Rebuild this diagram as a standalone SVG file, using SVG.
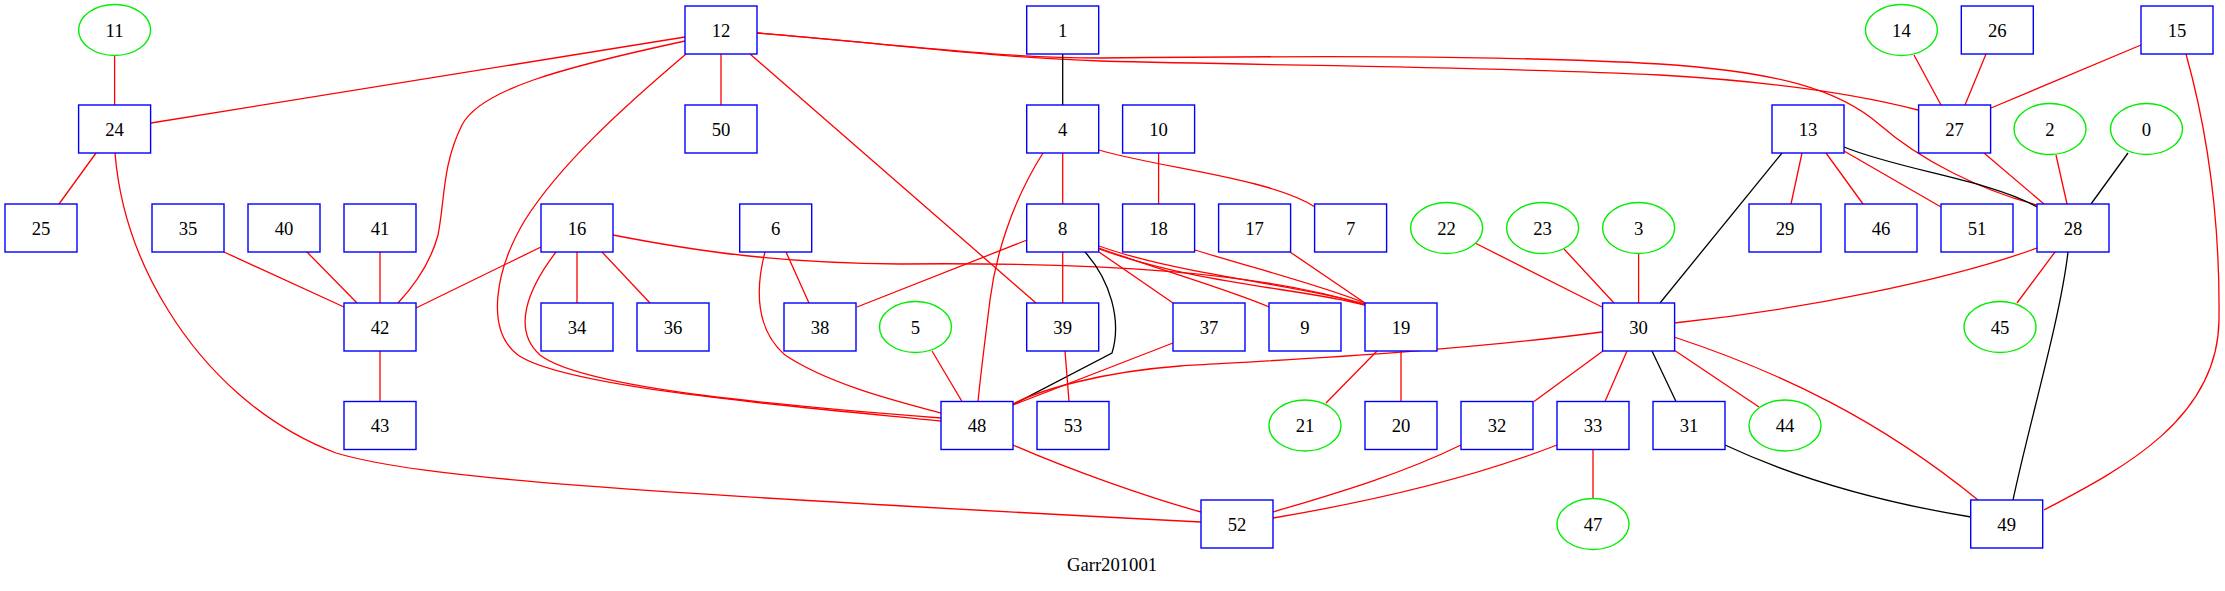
<svg xmlns="http://www.w3.org/2000/svg" width="2225" height="591" viewBox="0 0 2225 591">
<style>
.b{fill:#fff;stroke:#0000ff;stroke-width:1.4}
.e{fill:#fff;stroke:#00ee00;stroke-width:1.4}
text{font-family:"Liberation Serif","Times New Roman",serif;font-size:18.67px;fill:#000;text-anchor:middle}
.r{fill:none;stroke:#ff0000;stroke-width:1.3}
.k{fill:none;stroke:#000;stroke-width:1.3}
</style>
<rect width="2225" height="591" fill="#fff"/>
<g id="connectors">
<path class="r" d="M114.6,55.5 L114.6,105"/>
<path class="r" d="M685,37 L151,123"/>
<path class="r" d="M685,41 C560,68 480,90 462,125 C442,165 445,200 438,235 C430,265 412,288 398,303"/>
<path class="r" d="M686,54 C620,110 560,165 525,220 C495,270 485,330 518,355 C565,388 800,407 941,421"/>
<path class="r" d="M721,54 L721,105"/>
<path class="r" d="M750,54 L1036,303"/>
<path class="r" d="M757,33 C900,45 1000,58 1100,61 C1300,66 1500,67 1660,75 C1780,82 1860,95 1918,110"/>
<path class="r" d="M757,33 C900,45 1000,58 1100,58 C1300,56 1500,55 1660,64 C1780,72 1840,90 1880,125 C1920,160 1980,190 2037,205"/>
<path class="r" d="M96,153 L59,204"/>
<path class="r" d="M115,153 C120,215 140,265 168,310 C205,370 262,425 336,453 C420,478 620,492 1201,522"/>
<path class="r" d="M224,252 L344,307"/>
<path class="r" d="M307,252 L357,303"/>
<path class="r" d="M380,252 L380,303"/>
<path class="r" d="M541,247 L416,308"/>
<path class="r" d="M380,351 L380,401.5"/>
<path class="r" d="M577,252 L577,303"/>
<path class="r" d="M602,252 L650,303"/>
<path class="r" d="M556,252 C527,290 512,330 540,355 C585,390 800,407 941,418"/>
<path class="r" d="M613,235 C700,252 780,263 900,264 C1100,262 1260,272 1365,305"/>
<path class="r" d="M786,252 L809,303"/>
<path class="r" d="M765,252 C755,290 756,330 785,355 C830,385 900,402 941,413"/>
<path class="r" d="M1062.7,153 L1062.7,204"/>
<path class="r" d="M1099,150 C1160,168 1270,178 1315,207"/>
<path class="r" d="M1043,153 C1010,205 995,260 990,300 C985,340 980,380 978,401.5"/>
<path class="r" d="M1027,240 L857,307"/>
<path class="r" d="M1062.7,252 L1062.7,303"/>
<path class="r" d="M1099,252 L1173,303"/>
<path class="r" d="M1099,248 C1160,270 1230,290 1269,307"/>
<path class="r" d="M1099,246 C1180,275 1300,285 1365,304"/>
<path class="r" d="M1099,249 C1200,285 1300,288 1365,305"/>
<path class="k" d="M1085,252 C1110,280 1122,320 1112,353 L1014,404"/>
<path class="r" d="M1158.6,153 L1158.6,204"/>
<path class="r" d="M1195,250 C1260,270 1320,285 1365,303"/>
<path class="r" d="M1290,252 L1365,303"/>
<path class="r" d="M932,351 L962,401.5"/>
<path class="r" d="M1065,351 L1069,401.5"/>
<path class="r" d="M1173,343 L1013,405"/>
<path class="r" d="M1602,332 C1450,352 1280,360 1180,366 C1100,372 1040,390 1013,404"/>
<path class="r" d="M1377,351 L1326,403"/>
<path class="r" d="M1401,351 L1401,401.5"/>
<path class="r" d="M1013,445 C1070,470 1150,498 1201,512"/>
<path class="r" d="M1461,445 C1400,475 1330,495 1273,512"/>
<path class="r" d="M1557,445 C1480,475 1380,500 1273,518"/>
<path class="r" d="M1593,449.5 L1593,498.5"/>
<path class="r" d="M1475,243 L1602,307"/>
<path class="r" d="M1564,249 L1614,303"/>
<path class="r" d="M1638.6,253.5 L1638.6,303"/>
<path class="r" d="M1603,351 L1534,401.5"/>
<path class="r" d="M1627,351 L1605,401.5"/>
<path class="k" d="M1652,351 L1676,401.5"/>
<path class="r" d="M1674,350 L1759,407"/>
<path class="r" d="M1674,337 C1780,372 1880,420 1978,500"/>
<path class="k" d="M1725,445 C1800,480 1880,502 1971,517"/>
<path class="r" d="M2037,248 C1950,280 1800,310 1674,323"/>
<path class="r" d="M2055,252 L2017,303"/>
<path class="k" d="M2068,252 C2060,320 2030,420 2013,500"/>
<path class="r" d="M2186,54 C2210,140 2220,230 2219,320 C2218,420 2120,470 2044,510"/>
<path class="k" d="M1782,153 L1660,303"/>
<path class="r" d="M1802,153 L1791,204"/>
<path class="r" d="M1826,153 L1863,204"/>
<path class="r" d="M1844,151 L1941,207"/>
<path class="k" d="M1844,147 C1900,170 1990,180 2037,207"/>
<path class="r" d="M1984,153 L2044,204"/>
<path class="r" d="M2056,155 L2067,204"/>
<path class="k" d="M2128,153 L2091,204"/>
<path class="r" d="M1914,55 L1941,105"/>
<path class="r" d="M1986,54 L1965,105"/>
<path class="r" d="M2141,45 L1991,108"/>
<path class="k" d="M1062.7,54 L1062.7,105"/>
</g>
<g id="node-11"><ellipse class="e" cx="114.6" cy="30" rx="36" ry="25.5"/><text x="114.6" y="36.5">11</text></g>
<g id="node-12"><rect class="b" x="685" y="6" width="72" height="48"/><text x="721" y="36.5">12</text></g>
<g id="node-1"><rect class="b" x="1026.7" y="6" width="72" height="48"/><text x="1062.7" y="36.5">1</text></g>
<g id="node-14"><ellipse class="e" cx="1901.4" cy="30" rx="36" ry="25.5"/><text x="1901.4" y="36.5">14</text></g>
<g id="node-26"><rect class="b" x="1961.3" y="6" width="72" height="48"/><text x="1997.3" y="36.5">26</text></g>
<g id="node-15"><rect class="b" x="2141" y="6" width="72" height="48"/><text x="2177" y="36.5">15</text></g>
<g id="node-24"><rect class="b" x="78.6" y="105" width="72" height="48"/><text x="114.6" y="135.5">24</text></g>
<g id="node-50"><rect class="b" x="685" y="105" width="72" height="48"/><text x="721" y="135.5">50</text></g>
<g id="node-4"><rect class="b" x="1026.7" y="105" width="72" height="48"/><text x="1062.7" y="135.5">4</text></g>
<g id="node-10"><rect class="b" x="1122.6" y="105" width="72" height="48"/><text x="1158.6" y="135.5">10</text></g>
<g id="node-13"><rect class="b" x="1772" y="105" width="72" height="48"/><text x="1808" y="135.5">13</text></g>
<g id="node-27"><rect class="b" x="1918.6" y="105" width="72" height="48"/><text x="1954.6" y="135.5">27</text></g>
<g id="node-2"><ellipse class="e" cx="2050" cy="129" rx="36" ry="25.5"/><text x="2050" y="135.5">2</text></g>
<g id="node-0"><ellipse class="e" cx="2146.5" cy="129" rx="36" ry="25.5"/><text x="2146.5" y="135.5">0</text></g>
<g id="node-25"><rect class="b" x="5" y="204" width="72" height="48"/><text x="41" y="234.5">25</text></g>
<g id="node-35"><rect class="b" x="152" y="204" width="72" height="48"/><text x="188" y="234.5">35</text></g>
<g id="node-40"><rect class="b" x="248" y="204" width="72" height="48"/><text x="284" y="234.5">40</text></g>
<g id="node-41"><rect class="b" x="344" y="204" width="72" height="48"/><text x="380" y="234.5">41</text></g>
<g id="node-16"><rect class="b" x="541" y="204" width="72" height="48"/><text x="577" y="234.5">16</text></g>
<g id="node-6"><rect class="b" x="739.7" y="204" width="72" height="48"/><text x="775.7" y="234.5">6</text></g>
<g id="node-8"><rect class="b" x="1026.7" y="204" width="72" height="48"/><text x="1062.7" y="234.5">8</text></g>
<g id="node-18"><rect class="b" x="1122.6" y="204" width="72" height="48"/><text x="1158.6" y="234.5">18</text></g>
<g id="node-17"><rect class="b" x="1218.6" y="204" width="72" height="48"/><text x="1254.6" y="234.5">17</text></g>
<g id="node-7"><rect class="b" x="1314.6" y="204" width="72" height="48"/><text x="1350.6" y="234.5">7</text></g>
<g id="node-22"><ellipse class="e" cx="1446.6" cy="228" rx="36" ry="25.5"/><text x="1446.6" y="234.5">22</text></g>
<g id="node-23"><ellipse class="e" cx="1542.6" cy="228" rx="36" ry="25.5"/><text x="1542.6" y="234.5">23</text></g>
<g id="node-3"><ellipse class="e" cx="1638.6" cy="228" rx="36" ry="25.5"/><text x="1638.6" y="234.5">3</text></g>
<g id="node-29"><rect class="b" x="1749" y="204" width="72" height="48"/><text x="1785" y="234.5">29</text></g>
<g id="node-46"><rect class="b" x="1845" y="204" width="72" height="48"/><text x="1881" y="234.5">46</text></g>
<g id="node-51"><rect class="b" x="1941" y="204" width="72" height="48"/><text x="1977" y="234.5">51</text></g>
<g id="node-28"><rect class="b" x="2037" y="204" width="72" height="48"/><text x="2073" y="234.5">28</text></g>
<g id="node-42"><rect class="b" x="344" y="303" width="72" height="48"/><text x="380" y="333.5">42</text></g>
<g id="node-34"><rect class="b" x="541" y="303" width="72" height="48"/><text x="577" y="333.5">34</text></g>
<g id="node-36"><rect class="b" x="637" y="303" width="72" height="48"/><text x="673" y="333.5">36</text></g>
<g id="node-38"><rect class="b" x="784" y="303" width="72" height="48"/><text x="820" y="333.5">38</text></g>
<g id="node-5"><ellipse class="e" cx="915.5" cy="327" rx="36" ry="25.5"/><text x="915.5" y="333.5">5</text></g>
<g id="node-39"><rect class="b" x="1026.7" y="303" width="72" height="48"/><text x="1062.7" y="333.5">39</text></g>
<g id="node-37"><rect class="b" x="1173" y="303" width="72" height="48"/><text x="1209" y="333.5">37</text></g>
<g id="node-9"><rect class="b" x="1269" y="303" width="72" height="48"/><text x="1305" y="333.5">9</text></g>
<g id="node-19"><rect class="b" x="1365" y="303" width="72" height="48"/><text x="1401" y="333.5">19</text></g>
<g id="node-30"><rect class="b" x="1602.6" y="303" width="72" height="48"/><text x="1638.6" y="333.5">30</text></g>
<g id="node-45"><ellipse class="e" cx="2000" cy="327" rx="36" ry="25.5"/><text x="2000" y="333.5">45</text></g>
<g id="node-43"><rect class="b" x="344" y="401.5" width="72" height="48"/><text x="380" y="432">43</text></g>
<g id="node-48"><rect class="b" x="941" y="401.5" width="72" height="48"/><text x="977" y="432">48</text></g>
<g id="node-53"><rect class="b" x="1037" y="401.5" width="72" height="48"/><text x="1073" y="432">53</text></g>
<g id="node-21"><ellipse class="e" cx="1305" cy="425.5" rx="36" ry="25.5"/><text x="1305" y="432">21</text></g>
<g id="node-20"><rect class="b" x="1365" y="401.5" width="72" height="48"/><text x="1401" y="432">20</text></g>
<g id="node-32"><rect class="b" x="1461" y="401.5" width="72" height="48"/><text x="1497" y="432">32</text></g>
<g id="node-33"><rect class="b" x="1557" y="401.5" width="72" height="48"/><text x="1593" y="432">33</text></g>
<g id="node-31"><rect class="b" x="1653" y="401.5" width="72" height="48"/><text x="1689" y="432">31</text></g>
<g id="node-44"><ellipse class="e" cx="1785" cy="425.5" rx="36" ry="25.5"/><text x="1785" y="432">44</text></g>
<g id="node-52"><rect class="b" x="1201" y="500" width="72" height="48"/><text x="1237" y="530.5">52</text></g>
<g id="node-47"><ellipse class="e" cx="1593" cy="524" rx="36" ry="25.5"/><text x="1593" y="530.5">47</text></g>
<g id="node-49"><rect class="b" x="1970.7" y="500" width="72" height="48"/><text x="2006.7" y="530.5">49</text></g>
<text x="1112" y="571">Garr201001</text>
</svg>
